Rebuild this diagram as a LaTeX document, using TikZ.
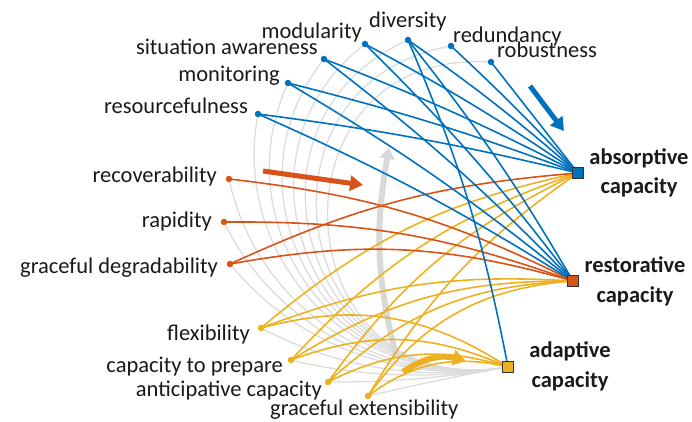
\documentclass[tikz,border=0pt]{standalone}
\usepackage{fontspec}
\setmainfont{Carlito}
\usetikzlibrary{arrows.meta}
\definecolor{cblue}{HTML}{0072BD}
\definecolor{corange}{HTML}{D95319}
\definecolor{cyellow}{HTML}{EDB120}
\definecolor{cgray}{HTML}{DCDCDC}
\definecolor{cgrayarrow}{HTML}{D9D9D9}
\definecolor{ctext}{HTML}{1A1A1A}
\begin{document}
\begin{tikzpicture}[x=1pt,y=1pt,
  lab/.style={font=\fontsize{22.5}{27}\selectfont, text=ctext, inner sep=0pt},
  blab/.style={font=\fontsize{22.5}{27}\selectfont\bfseries, text=ctext, inner sep=0pt},
  dotnode/.style={circle, inner sep=0pt, minimum size=6.5pt},
  sq/.style={rectangle, draw=black!80, line width=0.8pt, minimum size=11pt, inner sep=0pt},
  grayarc/.style={draw=cgray, line width=1.3pt},
  edgeline/.style={line width=1.6pt},
  bigarrow/.style={line width=5pt, -{Triangle[length=13pt,width=15pt]}},
]
\useasboundingbox (0,0) rectangle (692,-421);

% positions
\coordinate (mod) at (365,-44);
\coordinate (div) at (408,-40);
\coordinate (red) at (451,-46);
\coordinate (rob) at (491,-62);
\coordinate (sit) at (324,-59);
\coordinate (mon) at (288,-83);
\coordinate (res) at (258,-114);
\coordinate (rec) at (229,-179);
\coordinate (rap) at (224,-222);
\coordinate (gdeg) at (230,-264);
\coordinate (flex) at (261,-328);
\coordinate (prep) at (291,-360);
\coordinate (anti) at (328,-382);
\coordinate (gext) at (368,-396);
\coordinate (abs) at (578,-173);
\coordinate (rest) at (573,-281);
\coordinate (adap) at (508,-367);

% gray arcs
\draw[grayarc] (rob) to[out=176.4,in=190,distance=230.9pt] (adap);
\draw[grayarc] (red) to[out=190.1,in=190,distance=217.2pt] (adap);
\draw[grayarc] (div) to[out=204.0,in=190,distance=203.2pt] (adap);
\draw[grayarc] (mod) to[out=217.7,in=190,distance=190.1pt] (adap);
\draw[grayarc] (sit) to[out=231.7,in=190,distance=176.4pt] (adap);
\draw[grayarc] (mon) to[out=245.5,in=190,distance=163.5pt] (adap);
\draw[grayarc] (res) to[out=259.3,in=190,distance=151.2pt] (adap);
\draw[grayarc] (rec) to[out=282.1,in=190,distance=130.4pt] (adap);
\draw[grayarc] (rap) to[out=295.9,in=190,distance=118.3pt] (adap);
\draw[grayarc] (gdeg) to[out=309.4,in=190,distance=106.1pt] (adap);
\draw[grayarc] (flex) to[out=332.1,in=190,distance=85.7pt] (adap);
\draw[grayarc] (prep) to[out=346.3,in=190,distance=73.2pt] (adap);
\draw[grayarc] (anti) to[out=359.5,in=190,distance=60.3pt] (adap);
\draw[grayarc] (gext) to[out=13.4,in=190,distance=47.7pt] (adap);

% thick gray arrow
\coordinate (ga1) at (396,-356);
\coordinate (ga2) at (389,-148);
\draw[cgrayarrow, line width=6pt, -{Triangle[length=11pt,width=15pt]}] (ga1) to[bend left=12] (ga2);

% yellow edges
\begin{scope}[edgeline, cyellow]
\draw (flex) to[bend left=14] (abs);
\draw (flex) to[bend left=12] (rest);
\draw (flex) to[bend left=24] (adap);
\draw (prep) to[bend left=14] (abs);
\draw (prep) to[bend left=16] (rest);
\draw (prep) to[bend left=22] (adap);
\draw (anti) to[bend left=14] (abs);
\draw (anti) to[bend left=20] (rest);
\draw (anti) to[bend left=22] (adap);
\draw (gext) to[bend left=12] (abs);
\draw (gext) to[bend left=25] (rest);
\draw (gext) to[bend left=25] (adap);
\end{scope}

% orange edges
\begin{scope}[edgeline, corange]
\draw (rec) to[bend left=10] (rest);
\draw (rap) to[bend left=10] (rest);
\draw (gdeg) to[bend left=13] (rest);
\draw (gdeg) to[bend left=10] (abs);
\end{scope}

% blue edges
\begin{scope}[edgeline, cblue]
\draw (rob) -- (abs);
\draw (red) to[bend left=2] (abs);
\draw (div) to[bend left=3] (abs);
\draw (div) to[bend left=4] (rest);
\draw (div) to[bend left=6] (adap);
\draw (mod) to[bend left=3] (abs);
\draw (mod) to[bend left=4] (rest);
\draw (sit) to[bend left=3] (abs);
\draw (sit) to[bend left=4] (rest);
\draw (mon) to[bend left=3] (abs);
\draw (mon) to[bend left=4] (rest);
\draw (res) to[bend left=3] (abs);
\draw (res) to[bend left=4] (rest);
\end{scope}

% coloured arrows
\coordinate (oa1) at (263,-171);
\coordinate (oa2) at (363,-185);
\draw[bigarrow, corange] (oa1) -- (oa2);
\coordinate (ba1) at (530,-86);
\coordinate (ba2) at (564,-131);
\draw[bigarrow, cblue] (ba1) -- (ba2);
\coordinate (ya1) at (403,-372);
\coordinate (ya2) at (466,-361);
\draw[bigarrow, cyellow, line width=6pt] (ya1) to[bend left=25] (ya2);

% dots
\foreach \n in {mod,div,red,rob,sit,mon,res}{\node[dotnode, fill=cblue] (\n-d) at (\n) {};}
\foreach \n in {rec,rap,gdeg}{\node[dotnode, fill=corange] (\n-d) at (\n) {};}
\foreach \n in {flex,prep,anti,gext}{\node[dotnode, fill=cyellow] (\n-d) at (\n) {};}

% squares
\node[sq, fill=cblue] (abs-s) at (abs) {};
\node[sq, fill=corange] (rest-s) at (rest) {};
\node[sq, fill=cyellow] (adap-s) at (adap) {};

% labels
\node[lab, anchor=base east] (l-mod) at (362,-38) {modularity};
\node[lab, anchor=base west] (l-div) at (369,-27) {diversity};
\node[lab, anchor=base west] (l-red) at (453,-42) {redundancy};
\node[lab, anchor=base west] (l-rob) at (497,-57) {robustness};
\node[lab, anchor=base east] (l-sit) at (318,-54) {situation awareness};
\node[lab, anchor=base east] (l-mon) at (280,-81) {monitoring};
\node[lab, anchor=base east] (l-res) at (248,-113) {resourcefulness};
\node[lab, anchor=base east] (l-rec) at (217,-182) {recoverability};
\node[lab, anchor=base east] (l-rap) at (212,-227) {rapidity};
\node[lab, anchor=base east] (l-gdeg) at (218,-273) {graceful degradability};
\node[lab, anchor=base east] (l-flex) at (250,-340) {flexibility};
\node[lab, anchor=base east] (l-prep) at (283,-372) {capacity to prepare};
\node[lab, anchor=base east] (l-anti) at (322,-396) {anticipative capacity};
\node[lab, anchor=base west] (l-gext) at (270,-415) {graceful extensibility};

\node[blab, anchor=base] (l-abs1) at (639,-164) {absorptive};
\node[blab, anchor=base] (l-abs2) at (639,-193) {capacity};
\node[blab, anchor=base] (l-rest1) at (635,-272) {restorative};
\node[blab, anchor=base] (l-rest2) at (635,-302) {capacity};
\node[blab, anchor=base] (l-adap1) at (570,-357) {adaptive};
\node[blab, anchor=base] (l-adap2) at (570,-387) {capacity};
\end{tikzpicture}
\end{document}
